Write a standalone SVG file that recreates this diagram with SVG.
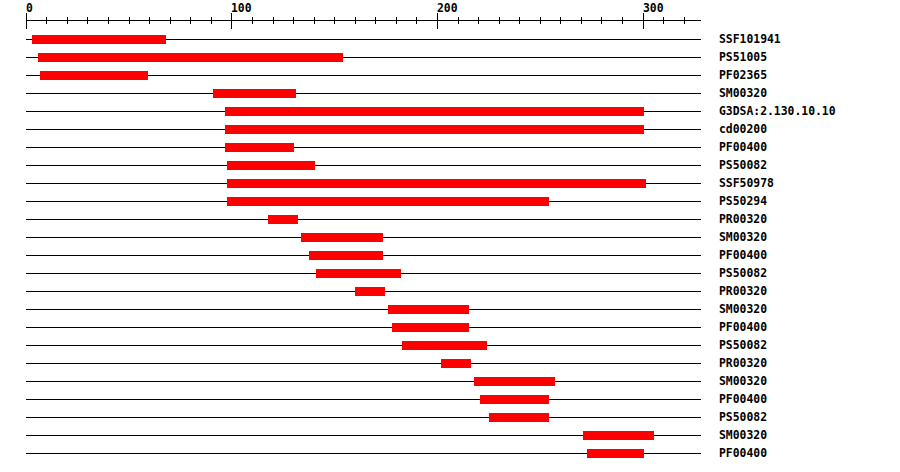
<svg xmlns="http://www.w3.org/2000/svg" width="900" height="472" viewBox="0 0 900 472">
<style>
text{font-family:"DejaVu Sans Mono","Liberation Mono",monospace;font-weight:bold;font-size:11.4px;fill:#000}
.ln{stroke:#000;stroke-width:1;fill:none}
.bar{fill:#ff0000}
</style>
<rect width="900" height="472" fill="#fff"/>
<g id="axis">
<path class="ln" d="M26 20.5H701"/>
<path class="ln" d="M26.5 13V29M231.5 13V29M437.5 13V29M643.5 13V29"/>
<path class="ln" d="M46.5 17V24M67.5 17V24M87.5 17V24M108.5 17V24M129.5 17V24M149.5 17V24M170.5 17V24M190.5 17V24M211.5 17V24M252.5 17V24M273.5 17V24M293.5 17V24M314.5 17V24M334.5 17V24M355.5 17V24M375.5 17V24M396.5 17V24M416.5 17V24M458.5 17V24M478.5 17V24M499.5 17V24M519.5 17V24M540.5 17V24M560.5 17V24M581.5 17V24M601.5 17V24M622.5 17V24M663.5 17V24M684.5 17V24"/>
<text x="26" y="12">0</text>
<text x="231" y="12">100</text>
<text x="437" y="12">200</text>
<text x="643" y="12">300</text>
</g>
<g id="connectors"></g>
<g id="row1"><path class="ln" d="M26 39.5H701"/><rect class="bar" x="32" y="35" width="134" height="9"/><text x="719" y="43">SSF101941</text></g>
<g id="row2"><path class="ln" d="M26 57.5H701"/><rect class="bar" x="38" y="53" width="305" height="9"/><text x="719" y="61">PS51005</text></g>
<g id="row3"><path class="ln" d="M26 75.5H701"/><rect class="bar" x="40" y="71" width="108" height="9"/><text x="719" y="79">PF02365</text></g>
<g id="row4"><path class="ln" d="M26 93.5H701"/><rect class="bar" x="213" y="89" width="83" height="9"/><text x="719" y="97">SM00320</text></g>
<g id="row5"><path class="ln" d="M26 111.5H701"/><rect class="bar" x="225" y="107" width="419" height="9"/><text x="719" y="115">G3DSA:2.130.10.10</text></g>
<g id="row6"><path class="ln" d="M26 129.5H701"/><rect class="bar" x="225" y="125" width="419" height="9"/><text x="719" y="133">cd00200</text></g>
<g id="row7"><path class="ln" d="M26 147.5H701"/><rect class="bar" x="225" y="143" width="69" height="9"/><text x="719" y="151">PF00400</text></g>
<g id="row8"><path class="ln" d="M26 165.5H701"/><rect class="bar" x="227" y="161" width="88" height="9"/><text x="719" y="169">PS50082</text></g>
<g id="row9"><path class="ln" d="M26 183.5H701"/><rect class="bar" x="227" y="179" width="419" height="9"/><text x="719" y="187">SSF50978</text></g>
<g id="row10"><path class="ln" d="M26 201.5H701"/><rect class="bar" x="227" y="197" width="322" height="9"/><text x="719" y="205">PS50294</text></g>
<g id="row11"><path class="ln" d="M26 219.5H701"/><rect class="bar" x="268" y="215" width="30" height="9"/><text x="719" y="223">PR00320</text></g>
<g id="row12"><path class="ln" d="M26 237.5H701"/><rect class="bar" x="301" y="233" width="82" height="9"/><text x="719" y="241">SM00320</text></g>
<g id="row13"><path class="ln" d="M26 255.5H701"/><rect class="bar" x="309" y="251" width="74" height="9"/><text x="719" y="259">PF00400</text></g>
<g id="row14"><path class="ln" d="M26 273.5H701"/><rect class="bar" x="316" y="269" width="85" height="9"/><text x="719" y="277">PS50082</text></g>
<g id="row15"><path class="ln" d="M26 291.5H701"/><rect class="bar" x="355" y="287" width="30" height="9"/><text x="719" y="295">PR00320</text></g>
<g id="row16"><path class="ln" d="M26 309.5H701"/><rect class="bar" x="388" y="305" width="81" height="9"/><text x="719" y="313">SM00320</text></g>
<g id="row17"><path class="ln" d="M26 327.5H701"/><rect class="bar" x="392" y="323" width="77" height="9"/><text x="719" y="331">PF00400</text></g>
<g id="row18"><path class="ln" d="M26 345.5H701"/><rect class="bar" x="402" y="341" width="85" height="9"/><text x="719" y="349">PS50082</text></g>
<g id="row19"><path class="ln" d="M26 363.5H701"/><rect class="bar" x="441" y="359" width="30" height="9"/><text x="719" y="367">PR00320</text></g>
<g id="row20"><path class="ln" d="M26 381.5H701"/><rect class="bar" x="474" y="377" width="81" height="9"/><text x="719" y="385">SM00320</text></g>
<g id="row21"><path class="ln" d="M26 399.5H701"/><rect class="bar" x="480" y="395" width="69" height="9"/><text x="719" y="403">PF00400</text></g>
<g id="row22"><path class="ln" d="M26 417.5H701"/><rect class="bar" x="489" y="413" width="60" height="9"/><text x="719" y="421">PS50082</text></g>
<g id="row23"><path class="ln" d="M26 435.5H701"/><rect class="bar" x="583" y="431" width="71" height="9"/><text x="719" y="439">SM00320</text></g>
<g id="row24"><path class="ln" d="M26 453.5H701"/><rect class="bar" x="587" y="449" width="57" height="9"/><text x="719" y="457">PF00400</text></g>
</svg>
